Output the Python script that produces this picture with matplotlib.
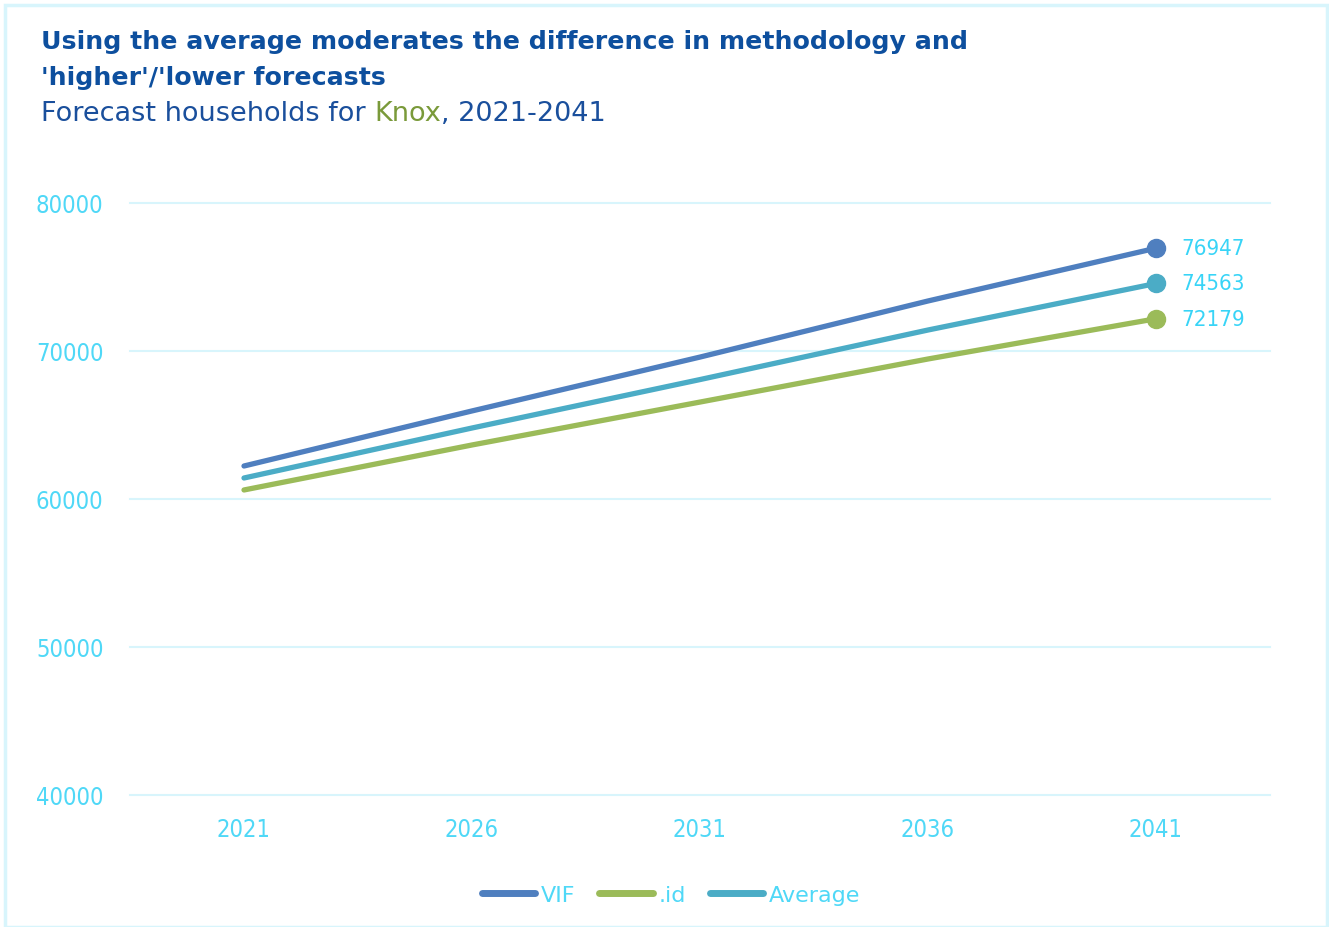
import matplotlib
matplotlib.use("Agg")
import matplotlib.pyplot as plt
from matplotlib.lines import Line2D
from matplotlib.patches import Rectangle

years = ["2021", "2026", "2031", "2036", "2041"]
vif = [62230, 65950, 69590, 73380, 76947]
idf = [60610, 63650, 66550, 69460, 72179]
average = [61419, 64797, 68070, 71418, 74563]

series_names = ["VIF", ".id", "Average"]
series_colors = ["#4f7fbf", "#9bbb59", "#4bacc6"]

TICK_COLOR = "#4fd8f7"
GRID_COLOR = "#d8f5fc"
TITLE_COLOR = "#0d4f9e"

fig = plt.figure(figsize=(13.29, 9.28), dpi=100)

# light frame around the card
fig.patches.append(Rectangle((5 / 1329, 0), 1322 / 1329, 922 / 928, transform=fig.transFigure,
                             fill=False, edgecolor=GRID_COLOR, linewidth=2.5))

ax = fig.add_axes([130 / 1329, 1 - 796 / 928, 1140 / 1329, 592 / 928])

x = list(range(len(years)))
for vals, name, col in zip([vif, idf, average], series_names, series_colors):
    ax.plot(x, vals, color=col, linewidth=3.8, solid_capstyle="round", zorder=3)
    ax.plot(x[-1], vals[-1], "o", color=col, markersize=13, zorder=4)
    ax.annotate(f"{vals[-1]}", (x[-1], vals[-1]), xytext=(18, 0), textcoords="offset points",
                color="#38d4f7", fontsize=16, va="center", ha="left", fontstretch="condensed")

ax.set_xlim(-0.5, len(years) - 0.5)
ax.set_ylim(40000, 80000)
ax.set_yticks([40000, 50000, 60000, 70000, 80000])
ax.set_xticks(x)
ax.set_xticklabels(years)
for lab in ax.get_xticklabels() + ax.get_yticklabels():
    lab.set_fontstretch("condensed")
ax.tick_params(axis="both", length=0, colors=TICK_COLOR, labelsize=17)
ax.tick_params(axis="y", pad=19)
ax.tick_params(axis="x", pad=16)
ax.grid(axis="y", color=GRID_COLOR, linewidth=1.5)
for gl in ax.get_ygridlines():
    gl.set_clip_on(False)
ax.set_axisbelow(True)
for s in ax.spines.values():
    s.set_visible(False)

handles = [Line2D([0], [0], color=c, linewidth=5, solid_capstyle="round") for c in series_colors]
leg = fig.legend(handles, series_names, loc="center", bbox_to_anchor=(671 / 1329, 1 - 896 / 928),
                 ncol=3, frameon=False, fontsize=16, handlelength=2.4, handletextpad=0.25,
                 columnspacing=1.1, labelcolor=TICK_COLOR)

fig.text(41 / 1329, 1 - 42 / 928, "Using the average moderates the difference in methodology and",
         color=TITLE_COLOR, fontsize=18.2, fontweight="bold", va="center", ha="left")
fig.text(41 / 1329, 1 - 78 / 928, "'higher'/'lower forecasts",
         color=TITLE_COLOR, fontsize=18.2, fontweight="bold", va="center", ha="left")

sub = fig.text(41 / 1329, 1 - 114 / 928, "Forecast households for ", color="#1a4f9c",
               fontsize=19.5, va="center", ha="left")
fig.canvas.draw()
r = fig.canvas.get_renderer()
bb = sub.get_window_extent(r)
t2 = fig.text(bb.x1 / fig.bbox.width, 1 - 114 / 928, "Knox", color="#7a9a3a",
              fontsize=19.5, va="center", ha="left")
bb2 = t2.get_window_extent(r)
fig.text(bb2.x1 / fig.bbox.width, 1 - 114 / 928, ", 2021-2041", color="#1a4f9c",
         fontsize=19.5, va="center", ha="left")

fig.savefig("out.png", dpi=100)
